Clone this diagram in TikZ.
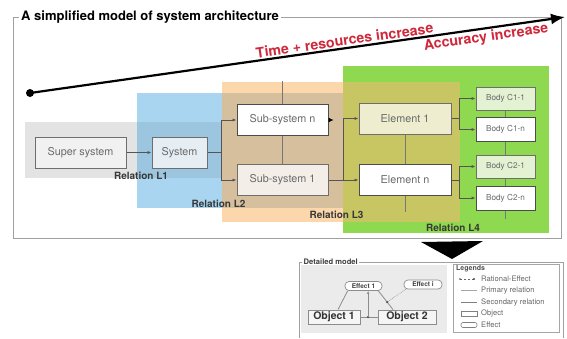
\documentclass[tikz,border=0pt]{standalone}
\usepackage{fontspec}
\setmainfont{TeX Gyre Heros}
\usetikzlibrary{arrows.meta}
\definecolor{cgray}{HTML}{E3E3E3}
\definecolor{cblue}{HTML}{A9D5F0}
\definecolor{cbluegray}{HTML}{9CC5DF}
\definecolor{corange}{HTML}{FCD7AC}
\definecolor{ctan}{HTML}{D6BF9C}
\definecolor{cgreen}{HTML}{8FD950}
\definecolor{colive}{HTML}{C8C663}
\definecolor{cred}{HTML}{D0283A}
\definecolor{cframe}{HTML}{A0A0A0}
\definecolor{cbord}{HTML}{6E6E6E}
\definecolor{ctext}{HTML}{6A6A6A}
\definecolor{cline}{HTML}{555555}
\definecolor{cpanel}{HTML}{EBEBEB}
\definecolor{cwsys}{HTML}{E6EEF4}
\definecolor{cwsub}{HTML}{F3EEE8}
\definecolor{cwel}{HTML}{EEEDD0}
\definecolor{cwbody}{HTML}{E3F2D2}
\definecolor{cwsup}{HTML}{F1F1F1}
\begin{document}
\begin{tikzpicture}[x=1pt,y=-1pt,
  outline/.style={draw=cframe, line width=0.8pt},
  archbox/.style={draw=cbord, line width=1pt, inner sep=0pt, text=ctext, font=\fontsize{10.8}{12}\selectfont, minimum height=31, minimum width=91},
  bodybox/.style={archbox, minimum width=59, minimum height=24, font=\fontsize{8.2}{9}\selectfont},
  rel/.style={font=\bfseries\fontsize{10}{12}\selectfont, text=black!78, inner sep=0pt},
  conn/.style={draw=cline, line width=0.8pt, -{Latex[length=4pt,width=3.2pt]}},
  sec/.style={draw=cline!80, line width=0.6pt},
  redlabel/.style={font=\bfseries\fontsize{14.2}{16}\selectfont, text=cred, sloped, inner sep=1.5pt},
  objbox/.style={draw=black!45, line width=0.9pt, fill=white!96!black, inner sep=0pt, minimum height=14, font=\bfseries\fontsize{10.5}{12}\selectfont, text=black!80},
  effbox/.style={draw=black!45, line width=0.7pt, fill=white, rounded corners=4pt, inner sep=0pt, minimum height=9, font=\bfseries\fontsize{6.5}{7}\selectfont, text=black!75},
  prim/.style={draw=black!45, line width=0.8pt},
  legtext/.style={anchor=west, inner sep=0pt, font=\fontsize{7.6}{8}\selectfont, text=black!60}
]
\useasboundingbox (0,0) rectangle (567,338);
\fill[white] (0,0) rectangle (567,338);

% coloured level regions
\fill[cgray] (25,122) rectangle (137,178);
\fill[cblue] (137,93) rectangle (222,208);
\fill[cbluegray] (137,122) rectangle (222,178);
\fill[corange] (222,82) rectangle (343,222);
\fill[ctan] (222,93) rectangle (343,208);
\fill[cgreen] (343,66) rectangle (549,233);
\fill[colive] (343,82) rectangle (460,222);

% title frame
\node[anchor=west, inner sep=2pt, font=\bfseries\fontsize{13}{15}\selectfont] (title) at (19,17) {A simplified model of system architecture};
\draw[outline] (title.west) -- (13,17) -- (13,238) -- (561,238) -- (561,17) -- (title.east);

% big arrow
\node[circle, fill=black, inner sep=0pt, minimum size=8] (dot) at (30,93) {};
\coordinate (tip) at (565,17);
\draw[line width=2.2pt, -{Latex[length=14pt,width=11pt]}] (dot.center) --
  node[redlabel, pos=0.59, above] {Time + resources increase}
  node[redlabel, pos=0.85, below] {Accuracy increase} (tip);

% nodes
\node[archbox, fill=cwsup] (super) at (80.5,152.5) {Super system};
\node[archbox, fill=cwsys, minimum width=55] (system) at (179.5,152.5) {System};
\node[archbox, fill=white, draw=black!70] (subn) at (282.5,120) {Sub-system n};
\node[archbox, fill=cwsub] (sub1) at (282.5,180) {Sub-system 1};
\node[archbox, fill=cwel, minimum width=92] (el1) at (405,118.5) {Element 1};
\node[archbox, fill=white, draw=black!70, minimum width=92] (eln) at (405,180) {Element n};
\node[bodybox, fill=cwbody, minimum height=23] (c11) at (505.5,98.5) {Body C1-1};
\node[bodybox, fill=white, draw=black!70] (c1n) at (505.5,129.5) {Body C1-n};
\node[bodybox, fill=cwbody, minimum height=23] (c21) at (505.5,166.5) {Body C2-1};
\node[bodybox, fill=white, draw=black!70] (c2n) at (505.5,198) {Body C2-n};

% secondary vertical relations
\draw[sec] ([yshift=23]subn.north) -- (subn.north);
\draw[sec] (subn.south) -- (sub1.north);
\draw[sec] (el1.south) -- (eln.north);
\draw[sec] (eln.south) -- ([yshift=-16]eln.south);
\draw[sec] (c11.south) -- (c1n.north);
\draw[sec] (c1n.south) -- (c21.north);
\draw[sec] (c21.south) -- (c2n.north);
\draw[sec] (c2n.south) -- ([yshift=-8]c2n.south);

% relation labels
\node[rel] (l1) at (141,176) {Relation L1};
\node[rel] (l2) at (218.5,204) {Relation L2};
\node[rel] (l3) at (336.5,215) {Relation L3};
\node[rel] (l4) at (453,228) {Relation L4};

% connectors
\draw[conn] (super) -- (system);
\draw[conn] (system.east) -| ([xshift=-15]subn.west) -- (subn.west);
\draw[conn] (system.east) -| ([xshift=-15]sub1.west) -- (sub1.west);
\draw[draw=black, line width=0.8pt, -{Latex[length=5pt,width=5pt]}] (subn.east) -- ([xshift=5]subn.east);
\draw[conn] (sub1.east) -- (eln.west);
\draw[conn] ([xshift=15]sub1.east) |- (el1.west);
\draw[conn] (el1.east) -| ([xshift=-16]c11.west) -- (c11.west);
\draw[conn] (el1.east) -| ([xshift=-16]c1n.west) -- (c1n.west);
\draw[conn] (eln.east) -| ([xshift=-16]c21.west) -- (c21.west);
\draw[conn] (eln.east) -| ([xshift=-16]c2n.west) -- (c2n.west);

% downward pointer
\fill[black] (421,242) -- (483,241) -- (452,259) -- cycle;

% detailed model frame
\node[anchor=west, inner sep=1.5pt, font=\bfseries\fontsize{7.6}{8}\selectfont, text=black!75] (dtitle) at (302,262) {Detailed model};
\draw[outline] (dtitle.west) -- (299,262) -- (299,338);
\draw[outline] (dtitle.east) -- (563,262) -- (563,338);
\fill[cpanel] (301,265) rectangle (447,333);

\node[objbox, minimum width=52] (o1) at (334,317) {Object 1};
\node[objbox, minimum width=58] (o2) at (407,317) {Object 2};
\node[effbox, minimum width=37] (e1) at (363.5,286) {Effect 1};
\node[effbox, minimum width=38] (ei) at (423,284.5) {Effect i};

\draw[prim] ([xshift=3]e1.south west) -- ([xshift=4]o1.north);
\draw[prim] ([xshift=-4]e1.south east) -- coordinate[pos=0.6] (dj) ([xshift=-14]o2.north);
\fill[black!70] (dj) circle (1.2pt);
\draw[black!45, line width=0.6pt, densely dotted] ([xshift=2]ei.south west) -- (dj);
\draw[prim] (o1.east) -- coordinate[pos=0.45] (dm) (o2.west);
\fill[black!70] (dm) circle (1.2pt);
\draw[prim, -{Latex[length=3pt,width=2.5pt]}] (dm) -- (dm |- e1.south);

% legend
\draw[draw=black!35, line width=0.7pt, fill=white] (453,264) rectangle (559,332);
\node[anchor=west, inner sep=0pt, font=\bfseries\fontsize{7}{8}\selectfont, text=black!70] (lgt) at (456,269) {Legends};
\node[legtext] (t1) at (481,279) {Rational-Effect};
\node[legtext] (t2) at (481,290.5) {Primary relation};
\node[legtext] (t3) at (481,302) {Secondary relation};
\node[legtext] (t4) at (481,313.5) {Object};
\node[legtext] (t5) at (481,325) {Effect};
\draw[black!60, line width=0.5pt, dash pattern=on 2pt off 2pt] (460,279) -- (474,279);
\fill[black!70] (460,279) circle (0.9pt);
\fill[black!70] (474,279) circle (1.1pt);
\draw[black!35, line width=1.6pt] (461,290.5) -- (477,290.5);
\draw[black!50, line width=0.7pt] (461,302) -- (477,302);
\draw[black!50, line width=0.6pt] (461,311) rectangle (477,316);
\draw[black!50, line width=0.6pt, rounded corners=2pt] (461,322.5) rectangle (477,327.5);
\end{tikzpicture}
\end{document}
